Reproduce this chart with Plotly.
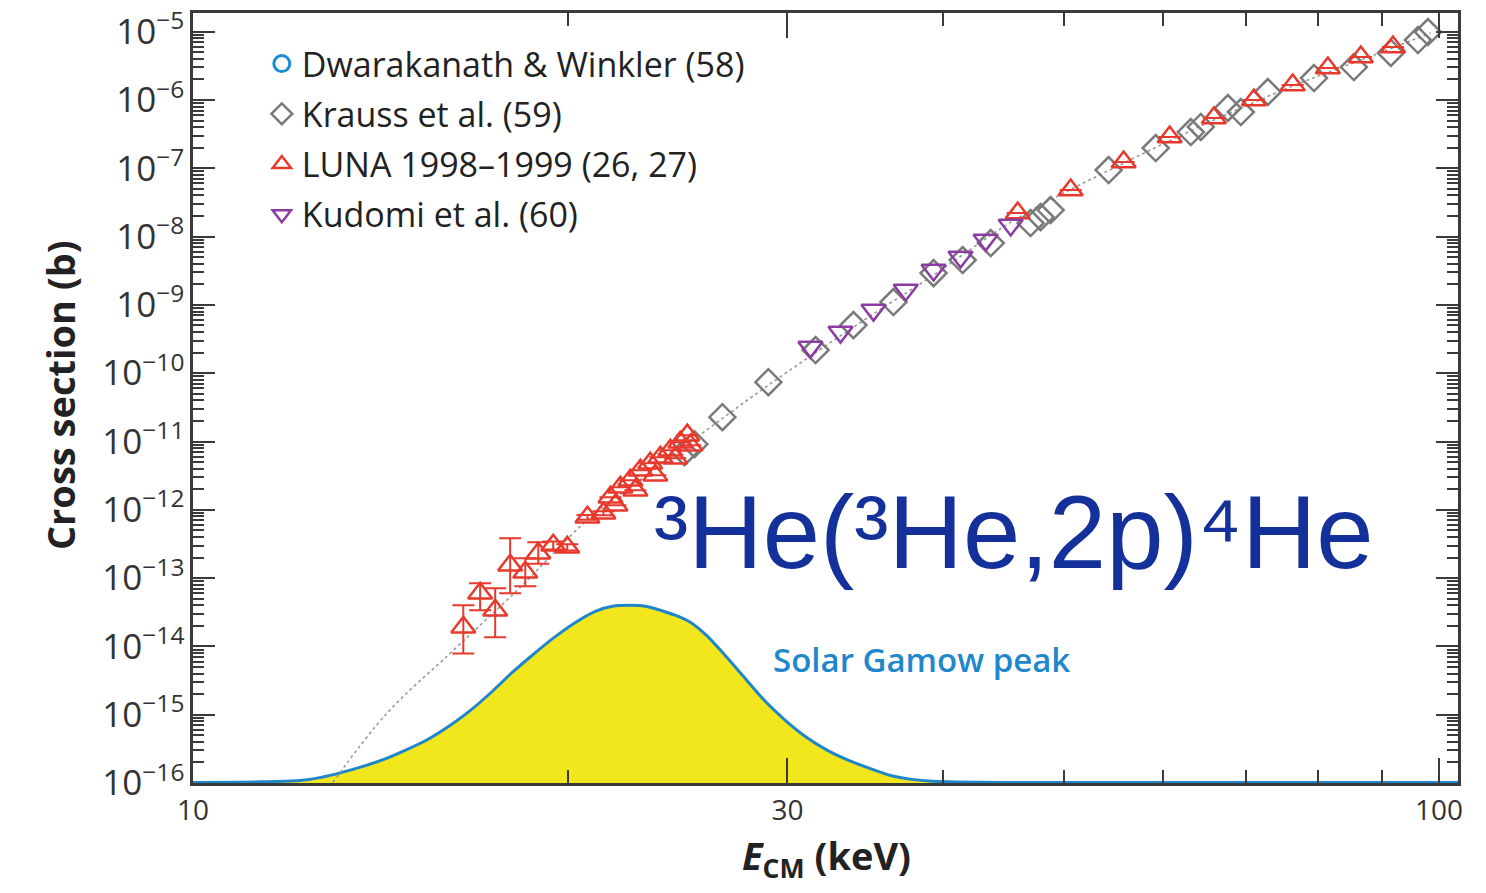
import plotly.graph_objects as go

# ---------------- data ----------------
# Solar Gamow peak envelope (drawn on the cross-section axis)
gamow_E = [10.00, 11.32, 12.19, 12.67, 13.17, 13.69, 14.23, 14.80, 15.39, 16.00,
           16.66, 17.32, 18.01, 18.72, 19.46, 20.23, 21.03, 21.71, 22.40, 23.07,
           23.72, 24.38, 25.07, 25.82, 26.60, 27.65, 28.74, 29.88, 31.07, 32.30,
           33.59, 34.92, 36.30, 37.74, 39.24, 44.49, 103.6]
gamow_sigma = [1.02e-16, 1.04e-16, 1.09e-16, 1.21e-16, 1.43e-16, 1.75e-16, 2.22e-16,
               3.01e-16, 4.22e-16, 6.54e-16, 1.12e-15, 2.06e-15, 4.05e-15, 7.42e-15,
               1.32e-14, 2.19e-14, 3.27e-14, 3.88e-14, 4.01e-14, 3.88e-14, 3.39e-14,
               2.86e-14, 2.26e-14, 1.46e-14, 8.20e-15, 3.65e-15, 1.63e-15, 8.28e-16,
               4.67e-16, 3.01e-16, 2.15e-16, 1.64e-16, 1.29e-16, 1.13e-16, 1.06e-16,
               1.02e-16, 1.02e-16]
gamow_base = [1e-17] * len(gamow_E)

# Theoretical (dotted) curve
theory_E = [12.95, 14.31, 16.18, 18.31, 20.72, 23.42, 26.02, 28.96, 33.89, 39.30,
            45.91, 55.84, 65.97, 76.32, 86.56, 98.5]
theory_sigma = [1.02e-16, 1.05e-15, 8.77e-15, 7.35e-14, 7.05e-13, 3.80e-12, 1.62e-11,
                6.68e-11, 4.73e-10, 2.74e-9, 1.87e-8, 1.19e-7, 5.09e-7, 1.60e-6,
                3.85e-6, 9.57e-6]

# Dwarakanath & Winkler (58) - above 100 keV, outside the shown window
dw_E = [110.0, 130.0]
dw_sigma = [1.4e-5, 3.5e-5]

# Krauss et al. (59)
krauss_E = [24.80, 25.26, 26.60, 28.96, 31.60, 33.89, 36.49, 39.30, 41.47, 43.68,
            47.01, 47.89, 48.79, 54.31, 59.25, 63.22, 64.40, 67.70, 69.34, 72.89,
            79.38, 85.45, 91.50, 96.19, 97.99]
krauss_sigma = [6.97e-12, 9.12e-12, 2.27e-11, 7.39e-11, 2.18e-10, 5.06e-10, 1.10e-9,
                2.92e-9, 4.53e-9, 8.04e-9, 1.58e-8, 1.93e-8, 2.45e-8, 9.44e-8,
                1.98e-7, 3.40e-7, 4.03e-7, 7.64e-7, 6.66e-7, 1.31e-6, 2.10e-6,
                3.04e-6, 4.88e-6, 7.55e-6, 9.9e-6]

# LUNA 1998-1999 (26, 27)
luna_E = [16.48, 17.00, 17.48, 17.97, 18.48, 18.93, 19.46, 19.97, 20.73, 21.35,
          21.63, 21.83, 22.03, 22.44, 22.65, 22.86, 23.28, 23.50, 23.72, 24.16,
          24.38, 24.61, 24.93, 25.07,
          45.91, 50.63, 55.84, 60.80, 65.97, 71.04, 76.32, 81.44, 86.56, 91.86]
luna_sigma = [1.91e-14, 6.0e-14, 3.38e-14, 1.54e-13, 1.22e-13, 2.31e-13, 3.03e-13,
              2.83e-13, 7.78e-13, 8.91e-13, 1.53e-12, 1.17e-12, 2.14e-12, 2.71e-12,
              1.94e-12, 3.80e-12, 4.81e-12, 3.21e-12, 5.89e-12, 7.46e-12, 5.70e-12,
              9.77e-12, 1.24e-11, 8.83e-12,
              2.21e-8, 4.80e-8, 1.24e-7, 2.87e-7, 5.45e-7, 1.0e-6, 1.66e-6, 2.94e-6,
              4.26e-6, 5.97e-6]
luna_err_plus = [2.09e-14, 2.4e-14, 3.72e-14, 2.29e-13, 7.3e-14, 1.04e-13, 4e-14,
                 3e-14, 6e-14, 6e-14] + [0] * 24
luna_err_minus = [1.12e-14, 2.62e-14, 2.02e-14, 9.4e-14, 4.6e-14, 6.9e-14, 4e-14,
                  3e-14, 6e-14, 6e-14] + [0] * 24

# Kudomi et al. (60)
kudomi_E = [31.30, 33.09, 35.17, 37.33, 39.30, 41.31, 43.27, 45.32]
kudomi_sigma = [2.41e-10, 4.0e-10, 8.40e-10, 1.65e-9, 3.24e-9, 5.02e-9, 8.89e-9, 1.48e-8]

x_tick_vals = [10, 30, 100]
x_tick_text = ["10", "30", "100"]
x_minor_vals = [20, 40, 50, 60, 70, 80, 90]

# ---------------- figure ----------------
FONT = "Open Sans"
fig = go.Figure()

fig.add_trace(go.Scatter(x=gamow_E, y=gamow_base, mode="lines", line=dict(width=0),
                         showlegend=False, hoverinfo="skip"))
fig.add_trace(go.Scatter(x=gamow_E, y=gamow_sigma, mode="lines", fill="tonexty",
                         fillcolor="#f1e71c",
                         line=dict(color="#1f86cb", width=3, shape="spline", smoothing=0.6),
                         showlegend=False))
fig.add_trace(go.Scatter(x=theory_E, y=theory_sigma, mode="lines",
                         line=dict(color="#9a9a9a", width=1.6, dash="dot", shape="spline"),
                         showlegend=False))

fig.add_trace(go.Scatter(x=dw_E, y=dw_sigma, mode="markers", name="Dwarakanath &amp; Winkler (58)",
                         legendgroup="a",
                         marker=dict(symbol="circle-open", size=18, color="#1a8ad6",
                                     line=dict(width=3, color="#1a8ad6"))))
fig.add_trace(go.Scatter(x=krauss_E, y=krauss_sigma, mode="markers", name="Krauss et al. (59)",
                         legendgroup="b",
                         marker=dict(symbol="diamond-open", size=20, color="#7a7a7a",
                                     line=dict(width=2.5, color="#7a7a7a"))))
fig.add_trace(go.Scatter(x=luna_E, y=luna_sigma, mode="markers", name="LUNA 1998–1999 (26, 27)",
                         legendgroup="c",
                         error_y=dict(type="data", array=luna_err_plus, arrayminus=luna_err_minus,
                                      color="#e8392c", thickness=2, width=11),
                         marker=dict(symbol="triangle-up-open", size=21, color="#e8392c",
                                     line=dict(width=2.5, color="#e8392c"))))
fig.add_trace(go.Scatter(x=kudomi_E, y=kudomi_sigma, mode="markers", name="Kudomi et al. (60)",
                         legendgroup="d",
                         marker=dict(symbol="triangle-down-open", size=21, color="#8b3ca3",
                                     line=dict(width=2.5, color="#8b3ca3"))))

axis_common = dict(showline=True, linewidth=3, linecolor="#3a3a3a", mirror="ticks",
                   ticks="inside", tickcolor="#3a3a3a", tickwidth=2, showgrid=False,
                   zeroline=False, automargin=False,
                   tickfont=dict(family=FONT, size=28, color="#333"))

fig.update_xaxes(type="log", range=[1, 2.0153], tickmode="array",
                 tickvals=x_tick_vals, ticktext=x_tick_text, ticklen=25,
                 minor=dict(tickmode="array", tickvals=x_minor_vals, ticks="inside",
                            ticklen=13, tickwidth=2, tickcolor="#3a3a3a", showgrid=False),
                 **axis_common)
fig.update_yaxes(type="log", range=[-16, -4.726], dtick=1, exponentformat="power",
                 ticklen=22,
                 minor=dict(dtick="D1", ticks="inside", ticklen=11, tickwidth=1.5,
                            tickcolor="#3a3a3a", showgrid=False),
                 **axis_common)

fig.add_annotation(xref="paper", yref="paper", x=-0.105, y=0.504, textangle=-90,
                   xanchor="center", yanchor="middle",
                   text="<b>Cross section (b)</b>", showarrow=False,
                   font=dict(family=FONT, size=38, color="#222"))
fig.add_annotation(xref="paper", yref="paper", x=0.5004, y=-0.097,
                   xanchor="center", yanchor="middle",
                   text="<b><i>E</i><sub>CM</sub> (keV)</b>", showarrow=False,
                   font=dict(family=FONT, size=38, color="#222"))
fig.add_annotation(xref="paper", yref="paper", x=0.649, y=0.3253,
                   xanchor="center", yanchor="middle",
                   text="³He(³He,2p)⁴He", showarrow=False,
                   font=dict(family="Liberation Sans", size=103, color="#14309a"))
fig.add_annotation(xref="paper", yref="paper", x=0.576, y=0.160,
                   xanchor="center", yanchor="middle",
                   text="Solar Gamow peak", showarrow=False,
                   font=dict(family=FONT, size=33, color="#1f87cc", weight=600))

fig.update_layout(
    width=1486, height=893,
    margin=dict(l=193, r=28, t=13, b=110),
    paper_bgcolor="white", plot_bgcolor="white",
    showlegend=True,
    legend=dict(x=0.0544, y=0.9714, xanchor="left", yanchor="top",
                bgcolor="rgba(0,0,0,0)", tracegroupgap=3,
                font=dict(family=FONT, size=34, color="#222")),
)

fig.write_html("out.html")
